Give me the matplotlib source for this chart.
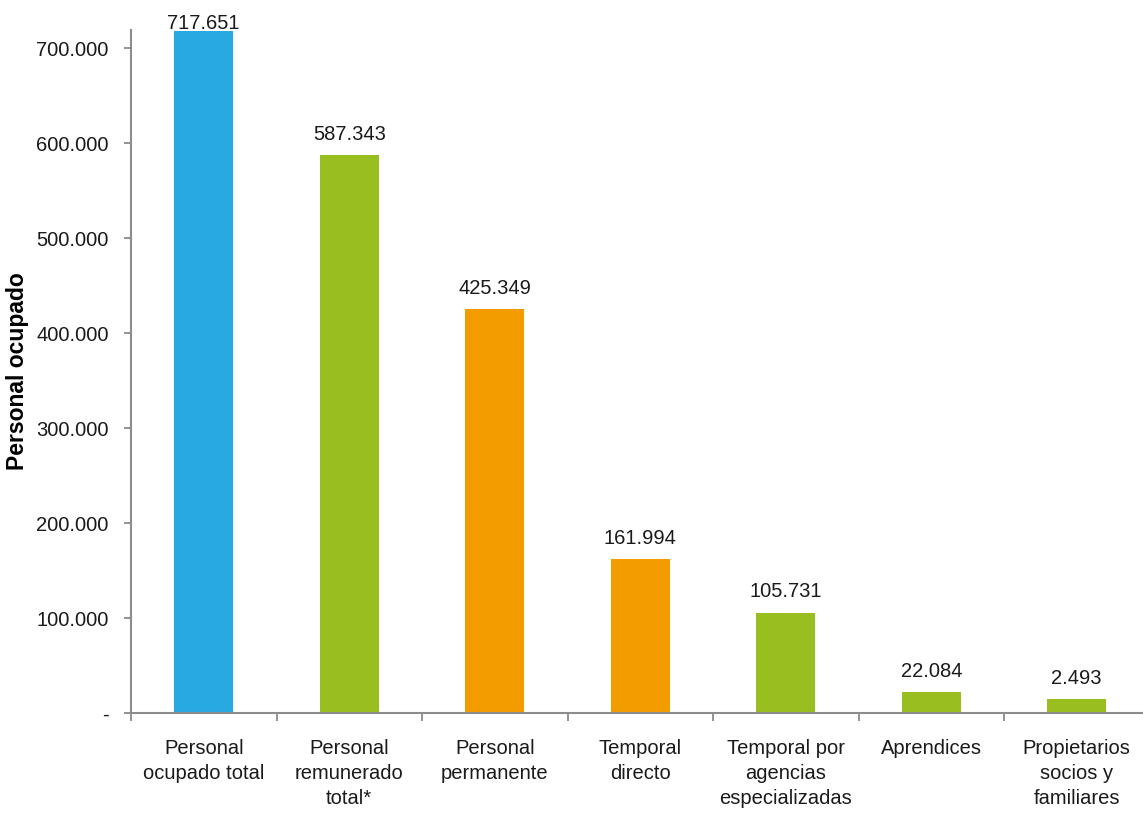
import matplotlib
matplotlib.use("Agg")
import matplotlib.pyplot as plt
from matplotlib.ticker import FixedLocator, FuncFormatter

categories = ["Personal\nocupado total", "Personal\nremunerado\ntotal*", "Personal\npermanente",
              "Temporal\ndirecto", "Temporal por\nagencias\nespecializadas", "Aprendices",
              "Propietarios\nsocios y\nfamiliares"]
bar_heights = [717651, 587343, 425349, 161994, 105731, 22084, 14500]
value_labels = ["717.651", "587.343", "425.349", "161.994", "105.731", "22.084", "2.493"]
bar_colors = ["#29A9E1", "#99BE1F", "#F39C00", "#F39C00", "#99BE1F", "#99BE1F", "#99BE1F"]
yticks = [0, 100000, 200000, 300000, 400000, 500000, 600000, 700000]

FONT = ["Liberation Sans", "DejaVu Sans"]
plt.rcParams["font.family"] = FONT
FS = 14.5

W, H = 1143, 814
fig = plt.figure(figsize=(W / 100, H / 100), dpi=100)
left, right, top, bottom = 131, 1149.5, 30, 713
ax = fig.add_axes([left / W, 1 - bottom / H, (right - left) / W, (bottom - top) / H])

x = list(range(len(categories)))
ax.bar(x, bar_heights, width=0.405, color=bar_colors, zorder=2)
ax.set_xlim(-0.5, len(categories) - 0.5)
ax.set_ylim(0, 719000)

for i, (h, lab) in enumerate(zip(bar_heights, value_labels)):
    off = -1 if i == 0 else 8
    ax.annotate(lab, (i, h), xytext=(0, off), textcoords="offset points",
                ha="center", va="bottom", fontsize=FS, color="#1a1a1a")

ax.set_xticks(x)
ax.set_xticklabels(categories, fontsize=FS, color="#1a1a1a", linespacing=1.4)
ax.tick_params(axis="x", which="major", length=0, pad=19)
ax.xaxis.set_minor_locator(FixedLocator([i - 0.5 for i in range(len(categories) + 1)]))
ax.tick_params(axis="x", which="minor", length=6, width=1.2, color="#808080", direction="out")

ax.yaxis.set_major_locator(FixedLocator(yticks))
ax.yaxis.set_major_formatter(FuncFormatter(lambda v, p: "-" if v == 0 else f"{int(v):,}".replace(",", ".")))
ax.tick_params(axis="y", length=5, width=1.2, color="#808080", pad=11, labelsize=FS, labelcolor="#1a1a1a")

for s in ["top", "right"]:
    ax.spines[s].set_visible(False)
for s in ["left", "bottom"]:
    ax.spines[s].set_color("#8c8c8c")
    ax.spines[s].set_linewidth(1.5)

fig.text(18 / W, 1 - 371 / H, "Personal ocupado", rotation=90, ha="center", va="center",
         fontsize=16.5, fontweight="bold", family=["Liberation Sans", "DejaVu Sans"])

fig.savefig("out.png", dpi=100)
